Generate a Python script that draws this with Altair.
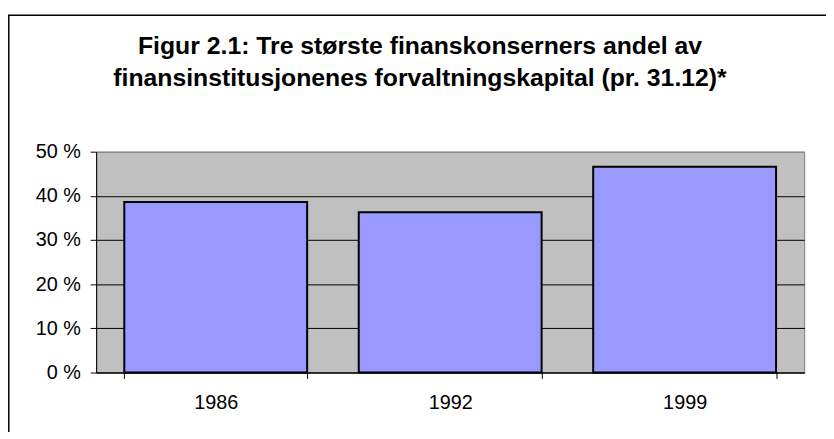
import altair as alt
import pandas as pd

years = ["1986", "1992", "1999"]
shares = [38.6, 36.3, 46.6]
y_ticks = [0, 10, 20, 30, 40, 50]
title_lines = [
    "Figur 2.1: Tre største finanskonserners andel av",
    "finansinstitusjonenes forvaltningskapital (pr. 31.12)*",
]

df = pd.DataFrame({"year": years, "share": shares})

FONT = "Liberation Sans"

bars = alt.Chart(df).mark_bar(
    color="#9999FF", stroke="black", strokeWidth=2
).encode(
    x=alt.X(
        "year:N",
        sort=years,
        title=None,
        scale=alt.Scale(paddingInner=0.22, paddingOuter=0.12),
        axis=alt.Axis(
            labelAngle=0,
            tickBand="extent",
            tickSize=6,
            labelPadding=14,
            grid=False,
        ),
    ),
    y=alt.Y(
        "share:Q",
        title=None,
        scale=alt.Scale(domain=[0, 50], nice=False),
        axis=alt.Axis(
            values=y_ticks,
            labelExpr="datum.value + ' %'",
            tickSize=6,
            labelPadding=10,
            grid=True,
            gridColor={"condition": {"test": "datum.value >= 50", "value": "#808080"}, "value": "black"},
            gridWidth=1,
        ),
    ),
)

border = alt.Chart(alt.Data(values=[{}])).mark_rect(
    fillOpacity=0, stroke="black", strokeWidth=1.5
).encode(
    x=alt.value(-88.2), x2=alt.value(780), y=alt.value(-137.7), y2=alt.value(320)
)

title = alt.Chart(alt.Data(values=[{}])).mark_text(
    font=FONT, fontSize=25, fontWeight="bold", color="black",
    align="center", baseline="alphabetic", lineHeight=32,
).encode(
    x=alt.value(327), y=alt.value(-98.3), text=alt.value(title_lines)
)

chart = alt.layer(border, title, bars).properties(
    width=715,
    height=223,
    background="white",
    autosize=alt.AutoSizeParams(type="none"),
    padding={"left": 89, "top": 143, "right": 22, "bottom": 58},
).configure_view(
    fill="#C0C0C0", stroke="#808080", strokeWidth=1
).configure_axis(
    domainColor="black",
    tickColor="black",
    labelColor="black",
    labelFont=FONT,
    labelFontSize=20,
    domainWidth=1,
    tickWidth=1,
)

chart.save("out.html", embed_options={"renderer": "svg", "actions": False})
